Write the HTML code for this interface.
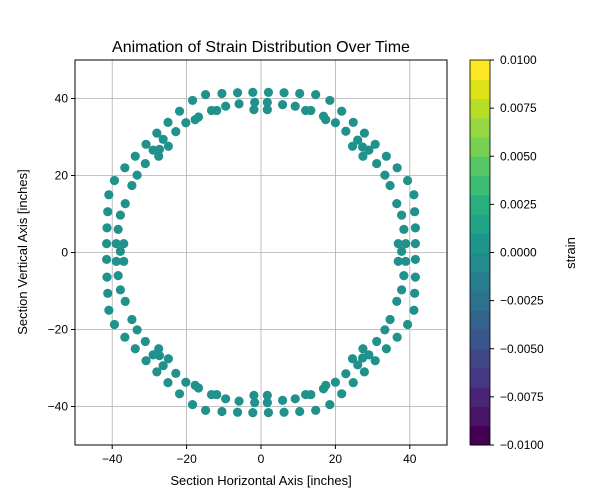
<!DOCTYPE html>
<html><head><meta charset="utf-8">
<style>
body{margin:0;background:#fff;}
svg{display:block;font-family:"Liberation Sans","DejaVu Sans",sans-serif;}
</style></head>
<body>
<svg id="chart" width="600" height="500" viewBox="0 0 600 500">
  <rect width="600" height="500" fill="#fff"/>
  <text x="261" y="52" text-anchor="middle" font-size="16">Animation of Strain Distribution Over Time</text>
  <g id="grid"></g>
  <g id="points"></g>
  <rect x="75" y="60" width="372" height="385" fill="none" stroke="#000" stroke-width="1"/>
  <g id="xticks"></g>
  <g id="yticks"></g>
  <text x="261" y="485" text-anchor="middle" font-size="13">Section Horizontal Axis [inches]</text>
  <text x="27" y="252" text-anchor="middle" font-size="13" transform="rotate(-90 27 252)">Section Vertical Axis [inches]</text>
  <g id="cbar"></g>
  <text x="575" y="253" text-anchor="middle" font-size="13" transform="rotate(-90 575 253)">strain</text>
</svg>
<script>
const xTicks=[-40,-20,0,20,40];
const yTicks=[-40,-20,0,20,40];
const cbTicks=[-0.01,-0.0075,-0.005,-0.0025,0,0.0025,0.005,0.0075,0.01];
const cbLabels=["−0.0100","−0.0075","−0.0050","−0.0025","0.0000","0.0025","0.0050","0.0075","0.0100"];
const ptX=[
-2.2,2.0,-6.3,6.2,-10.5,10.4,-14.9,14.7,-18.4,18.5,-21.9,21.7,-25.0,24.8,-28.0,27.8,-30.9,30.7,-33.8,33.7,-36.6,36.6,-39.4,39.4,-40.9,41.1,-41.2,41.3,-41.4,41.5,-41.5,41.5,-41.5,41.5,
-2.2,2.0,-6.3,6.2,-10.5,10.4,-14.9,14.7,-18.4,18.5,-21.9,21.7,-25.0,24.8,-28.0,27.8,-30.9,30.7,-33.8,33.7,-36.6,36.6,-39.4,39.4,-40.9,41.1,-41.2,41.3,-41.4,41.5,
-20.2,-17.7,-16.8,-13.3,-11.9,-9.5,-5.9,-1.9,-1.7,1.7,1.7,5.8,9.2,12.0,13.4,16.8,17.4,20.0,22.8,24.6,26.0,27.3,29.0,27.4,31.1,33.3,34.7,36.5,37.8,38.4,36.9,38.9,
-22.9,-24.9,-26.3,-27.3,-27.5,-29.0,-31.1,-33.3,-34.7,-36.5,-37.8,-38.4,-36.9,-38.9,-37.8,37.8,
-20.2,-17.7,-16.8,-13.3,-11.9,-9.5,-5.9,-1.9,-1.7,1.7,1.7,5.8,9.2,12.0,13.4,16.8,17.4,20.0,22.8,24.6,26.0,27.3,29.0,27.4,31.1,33.3,34.7,36.5,37.8,38.4,36.9,38.9,
-22.9,-24.9,-26.3,-27.3,-27.5,-29.0,-31.1,-33.3,-34.7,-36.5,-37.8,-38.4,-36.9,-38.9
];
const ptY=[
41.6,41.6,41.5,41.5,41.3,41.3,41.0,41.0,39.5,39.5,36.7,36.7,33.8,33.8,31.0,31.0,28.1,28.1,25.0,25.0,22.0,22.0,18.7,18.7,15.0,15.0,10.6,10.6,6.4,6.4,2.3,2.3,-1.8,-1.8,
-41.6,-41.6,-41.5,-41.5,-41.3,-41.3,-41.0,-41.0,-39.5,-39.5,-36.7,-36.7,-33.8,-33.8,-31.0,-31.0,-28.1,-28.1,-25.0,-25.0,-22.0,-22.0,-18.7,-18.7,-15.0,-15.0,-10.6,-10.6,-6.4,-6.4,
33.7,34.5,35.2,36.9,36.9,38.0,38.6,37.1,39.0,37.1,39.0,38.4,38.0,36.9,36.9,35.4,34.5,33.7,31.5,27.6,29.2,27.4,26.6,25.0,23.1,20.1,17.4,12.7,9.7,6.0,2.3,2.3,
31.4,27.6,29.4,26.8,25.0,26.6,23.1,20.1,17.4,12.7,9.7,6.0,2.3,2.3,0.3,0.3,
-33.7,-34.5,-35.2,-36.9,-36.9,-38.0,-38.6,-37.1,-39.0,-37.1,-39.0,-38.4,-38.0,-36.9,-36.9,-35.4,-34.5,-33.7,-31.5,-27.6,-29.2,-27.4,-26.6,-25.0,-23.1,-20.1,-17.4,-12.7,-9.7,-6.0,-2.3,-2.3,
-31.4,-27.6,-29.4,-26.8,-25.0,-26.6,-23.1,-20.1,-17.4,-12.7,-9.7,-6.0,-2.3,-2.3
];
const viridis=["#440154","#481467","#482576","#453781","#404688","#39558c","#33638d","#2d718e","#287d8e","#238a8d","#1f968b","#20a386","#29af7f","#3dbc74","#56c667","#75d054","#95d840","#bade28","#dde318","#fde725"];

const NS="http://www.w3.org/2000/svg";
function mk(tag,attrs,parent){const e=document.createElementNS(NS,tag);for(const k in attrs)e.setAttribute(k,attrs[k]);parent.appendChild(e);return e;}
const X0=75,X1=447,Y0=445,Y1=60;
const sx=v=>X0+(v+50)/100*(X1-X0);
const sy=v=>Y0-(v+50)/100*(Y0-Y1);
const CB0=470,CB1=490;
const cy=v=>Y0-(v+0.01)/0.02*(Y0-Y1);

const grid=document.getElementById('grid');
const xt=document.getElementById('xticks');
const yt=document.getElementById('yticks');
xTicks.forEach(t=>{
  const gl=mk('line',{x1:sx(t),x2:sx(t),y1:Y1,y2:Y0,stroke:'#b0b0b0','stroke-width':0.8},grid);
  
  
  const tk=mk('line',{x1:sx(t),x2:sx(t),y1:Y0,y2:Y0+4,stroke:'#000'},xt);
  
  
  const tx=mk('text',{x:sx(t),y:Y0+18,'text-anchor':'middle','font-size':12},xt);
  
  
  tx.textContent=t<0?'−'+(-t):String(t);
});
yTicks.forEach(t=>{
  const gl=mk('line',{x1:X0,x2:X1,y1:sy(t),y2:sy(t),stroke:'#b0b0b0','stroke-width':0.8},grid);
  
  
  const tk=mk('line',{x1:X0-4,x2:X0,y1:sy(t),y2:sy(t),stroke:'#000'},yt);
  
  
  const tx=mk('text',{x:X0-7,y:sy(t)+4,'text-anchor':'end','font-size':12},yt);
  
  
  tx.textContent=t<0?'−'+(-t):String(t);
});
const pts=document.getElementById('points');
ptX.forEach((x,i)=>{
  const c=mk('circle',{cx:sx(x),cy:sy(ptY[i]),r:4.6,fill:'#21918c'},pts);
  
  
});
const cb=document.getElementById('cbar');
const bh=(Y0-Y1)/viridis.length;
viridis.forEach((col,i)=>{
  const r=mk('rect',{x:CB0,y:Y0-(i+1)*bh,width:CB1-CB0,height:bh+0.5,fill:col},cb);
  
  
});
const fr=mk('rect',{x:CB0,y:Y1,width:CB1-CB0,height:Y0-Y1,fill:'none',stroke:'#000','stroke-width':0.8},cb);


cbTicks.forEach((t,i)=>{
  const tk=mk('line',{x1:CB1,x2:CB1+4,y1:cy(t),y2:cy(t),stroke:'#000'},cb);
  
  
  const tx=mk('text',{x:CB1+10,y:cy(t)+4,'font-size':12},cb);
  
  
  tx.textContent=cbLabels[i];
});
</script>
</body></html>
